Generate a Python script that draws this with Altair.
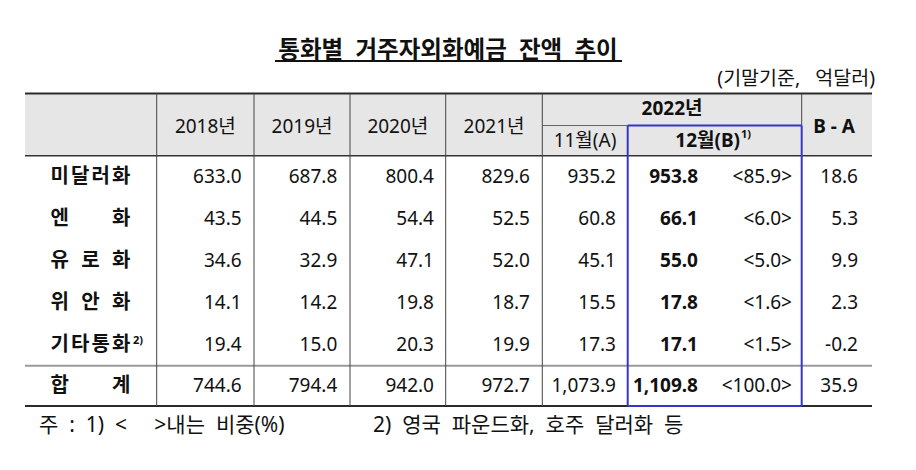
import altair as alt
import pandas as pd

NB = "\u00a0"

# ---------------- data ----------------
TITLE = f"통화별{NB*2}거주자외화예금{NB*2}잔액{NB*2}추이"
UNIT = f"(기말기준,{NB*3}억달러)"
YEAR_HEADERS = ["2018년", "2019년", "2020년", "2021년"]
GROUP_HEADER = "2022년"
NOV_HEADER = "11월(A)"
DEC_HEADER = "12월(B)"
DEC_NOTE = "1)"
DIFF_HEADER = "B - A"
CURRENCIES = ["미달러화", "엔화", "유로화", "위안화", "기타통화", "합계"]
CURRENCY_NOTES = ["", "", "", "", "2)", ""]
Y2018 = [633.0, 43.5, 34.6, 14.1, 19.4, 744.6]
Y2019 = [687.8, 44.5, 32.9, 14.2, 15.0, 794.4]
Y2020 = [800.4, 54.4, 47.1, 19.8, 20.3, 942.0]
Y2021 = [829.6, 52.5, 52.0, 18.7, 19.9, 972.7]
NOV2022 = [935.2, 60.8, 45.1, 15.5, 17.3, 1073.9]
DEC2022 = [953.8, 66.1, 55.0, 17.8, 17.1, 1109.8]
DEC_SHARE = [85.9, 6.0, 5.0, 1.6, 1.5, 100.0]
DIFF = [18.6, 5.3, 9.9, 2.3, -0.2, 35.9]
NOTE1 = f"주{NB*2}:{NB*2}1){NB*2}<{NB*5}>내는{NB*2}비중(%)"
NOTE2 = f"2){NB*2}영국{NB*2}파운드화,{NB*2}호주{NB*2}달러화{NB*2}등"

# ---------------- layout (page pixel coordinates) ----------------
OFF = 8
W, H = 890, 440
FONT = "Noto Sans, Noto Sans CJK KR"
FS = 19
INK = "#111111"
L, R = 25, 872
VLINES = [156.7, 254, 350, 445.7, 542.3]
BOX_L, BOX_R = 627.7, 801.7
Y_TOP, Y_SUB, Y_HEAD = 93.5, 125.5, 155.7
ROW_H = 42
Y_SEP = Y_HEAD + 5 * ROW_H
Y_BOT = 406
ROW_Y = [Y_HEAD + ROW_H * (i + 0.5) for i in range(5)] + [(Y_SEP + Y_BOT) / 2]
BLUE = "#3535c8"

rules = []


def rule(x1, y1, x2, y2, color, w):
    rules.append(dict(x=x1 - OFF, x2=x2 - OFF, y=y1 - OFF, y2=y2 - OFF, c=color, w=w))


rule(L, Y_TOP, R, Y_TOP, "#2b2b2b", 2.2)
rule(L, Y_HEAD, R, Y_HEAD, "#333333", 1.6)
rule(VLINES[-1], Y_SUB, BOX_L, Y_SUB, "#666666", 1)
rule(L, Y_SEP, R, Y_SEP, "#9a9a9a", 2)
rule(L, Y_BOT, R, Y_BOT, "#2b2b2b", 2.2)
for xv in VLINES:
    rule(xv, Y_TOP, xv, Y_BOT, "#444444", 1)
rule(BOX_R, Y_TOP, BOX_R, Y_SUB, "#444444", 1)
rule(BOX_L, Y_SUB, BOX_R, Y_SUB, BLUE, 2)
rule(BOX_L, Y_BOT, BOX_R, Y_BOT, BLUE, 2)
rule(BOX_L, Y_SUB, BOX_L, Y_BOT, BLUE, 2)
rule(BOX_R, Y_SUB, BOX_R, Y_BOT, BLUE, 2)
rule(275, 61, 622, 61, "#111111", 2)  # title underline

XE = alt.X("x:Q", scale=None, axis=None)
YE = alt.Y("y:Q", scale=None, axis=None)

bg = alt.Chart(pd.DataFrame([dict(x=L - OFF, x2=R - OFF, y=Y_TOP - OFF, y2=Y_HEAD - OFF)])).mark_rect(
    color="#e6e6e6"
).encode(x=XE, x2="x2:Q", y=YE, y2="y2:Q")

rule_layer = alt.Chart(pd.DataFrame(rules)).mark_rule().encode(
    x=XE, x2="x2:Q", y=YE, y2="y2:Q",
    color=alt.Color("c:N", scale=None),
    strokeWidth=alt.StrokeWidth("w:Q", scale=None),
)


def tl(items, align, weight="normal", size=FS):
    df = pd.DataFrame([dict(x=a - OFF, y=b - OFF, t=c) for a, b, c in items])
    return alt.Chart(df).mark_text(
        align=align, baseline="middle", font=FONT, fontSize=size, fontWeight=weight, color=INK
    ).encode(x=XE, y=YE, text="t:N")


# header texts
col_centers = [(a + b) / 2 for a, b in zip([156.7, 254, 350, 445.7], [254, 350, 445.7, 542.3])]
hdr_regular = [(cx, 127, t) for cx, t in zip(col_centers, YEAR_HEADERS)]
hdr_regular.append(((542.3 + BOX_L) / 2, 141, NOV_HEADER))
hdr_bold = [((542.3 + BOX_R) / 2, 109, GROUP_HEADER), (834, 127, DIFF_HEADER)]
hdr_bold_right = [(740, 141, DEC_HEADER)]
sup_items = [(741, 135, DEC_NOTE)]


# row labels (distributed characters)
def spread(label, x0=50, x1=131, cw=19.5):
    n = len(label)
    step = (x1 - x0 - cw) / (n - 1)
    return [(x0 + cw / 2 + i * step, ch) for i, ch in enumerate(label)]


label_items = []
for lab, note, yv in zip(CURRENCIES, CURRENCY_NOTES, ROW_Y):
    for cx, ch in spread(lab):
        label_items.append((cx, yv, ch))
    if note:
        sup_items.append((133, yv - 4, note))

# numeric cells (right aligned)
num_regular, num_bold = [], []
for xr, series in [(241.7, Y2018), (337.3, Y2019), (434, Y2020), (530, Y2021), (616, NOV2022)]:
    for yv, v in zip(ROW_Y, series):
        num_regular.append((xr, yv, f"{v:,.1f}"))
for yv, v in zip(ROW_Y, DEC_SHARE):
    num_regular.append((792, yv, f"<{v:.1f}>"))
for yv, v in zip(ROW_Y, DIFF):
    num_regular.append((858, yv, f"{v:,.1f}"))
for yv, v in zip(ROW_Y, DEC2022):
    num_bold.append((698, yv, f"{v:,.1f}"))

layers = [
    bg,
    rule_layer,
    tl([(448, 51, TITLE)], "center", "bold", 23.5),
    tl([(875, 79, UNIT)], "right", "normal", 19.5),
    tl(hdr_regular, "center"),
    tl(hdr_bold, "center", "bold"),
    tl(hdr_bold_right, "right", "bold"),
    tl(sup_items, "left", "bold", 11),
    tl(label_items, "center", "bold", 20),
    tl(num_regular, "right"),
    tl(num_bold, "right", "bold"),
    tl([(39, 426, NOTE1), (373, 426, NOTE2)], "left", "normal", 21),
]

chart = alt.layer(*layers).properties(
    width=W, height=H, padding=0, background="white"
).configure_view(stroke=None)

chart.save("out.html", embed_options={"renderer": "svg", "actions": False})
